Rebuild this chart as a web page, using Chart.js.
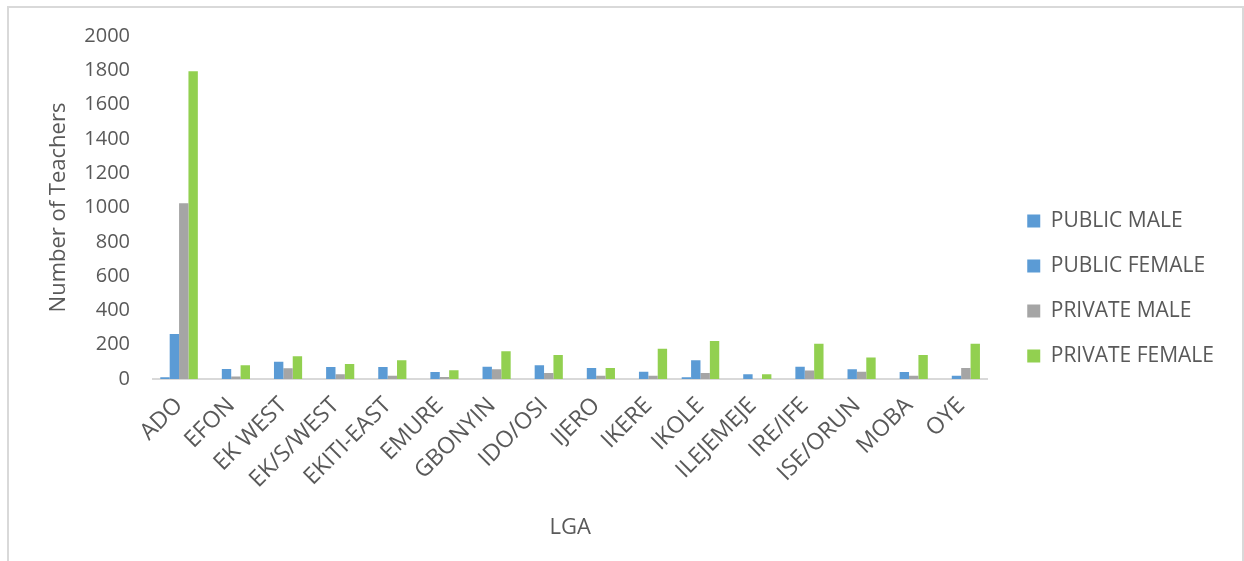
<!DOCTYPE html>
<html>
<head>
    <title>Teachers by LGA</title>
    <script src="https://cdn.jsdelivr.net/npm/chart.js"></script>
    <style>
        body {
            margin: 0;
            background: #ffffff;
            overflow: hidden;
        }

        /* thin grey frame round the chart, open at the bottom */
        .frame {
            position: absolute;
            left: 7px;
            top: 6px;
            width: 1233px;
            height: 600px;
            border: 2px solid #d9d9d9;
            border-bottom: none;
        }

        #lgaChart {
            position: absolute;
            left: 0;
            top: 0;
        }
    </style>
</head>
<body>
<div class="frame"></div>
<canvas id="lgaChart" width="1244" height="561"></canvas>

<script>
    const lgas = ['ADO', 'EFON', 'EK WEST', 'EK/S/WEST', 'EKITI-EAST', 'EMURE', 'GBONYIN', 'IDO/OSI',
        'IJERO', 'IKERE', 'IKOLE', 'ILEJEMEJE', 'IRE/IFE', 'ISE/ORUN', 'MOBA', 'OYE'];

    const publicMale    = [10, 0, 0, 0, 0, 0, 0, 0, 0, 0, 10, 0, 0, 0, 0, 0];
    const publicFemale  = [263, 58, 101, 70, 70, 41, 72, 80, 64, 43, 109, 27, 72, 57, 41, 19];
    const privateMale   = [1025, 15, 63, 27, 19, 12, 57, 35, 19, 19, 35, 0, 49, 43, 19, 64];
    const privateFemale = [1795, 80, 133, 88, 109, 51, 162, 140, 64, 177, 222, 27, 206, 125, 140, 206];

    const yTicks = { min: 0, max: 2000, step: 200 };

    const textColor = '#595959';
    const fontFamily = "'Open Sans', sans-serif";

    function makeSet(label, data, color) {
        return { label: label, data: data, backgroundColor: color, borderWidth: 0 };
    }

    const ctx = document.getElementById('lgaChart').getContext('2d');

    new Chart(ctx, {
        type: 'bar',
        data: {
            labels: lgas,
            datasets: [
                makeSet('PUBLIC MALE', publicMale, '#5b9bd5'),
                makeSet('PUBLIC FEMALE', publicFemale, '#5b9bd5'),
                makeSet('PRIVATE MALE', privateMale, '#a5a5a5'),
                makeSet('PRIVATE FEMALE', privateFemale, '#92d050')
            ]
        },
        options: {
            responsive: false,
            animation: false,
            categoryPercentage: 0.72,
            barPercentage: 1.0,
            layout: { padding: { left: 0, top: 36, right: 20, bottom: 20 } },
            plugins: {
                tooltip: { enabled: false },
                legend: {
                    position: 'right',
                    align: 'center',
                    labels: {
                        boxWidth: 13,
                        boxHeight: 13,
                        padding: 24,
                        color: textColor,
                        font: { family: fontFamily, size: 21 }
                    }
                }
            },
            scales: {
                x: {
                    grid: { display: false, drawTicks: false },
                    border: { color: '#d9d9d9', width: 2 },
                    ticks: {
                        autoSkip: false,
                        minRotation: 45,
                        maxRotation: 45,
                        padding: 13,
                        color: textColor,
                        font: { family: fontFamily, size: 23 }
                    },
                    title: {
                        display: true,
                        text: 'LGA',
                        color: textColor,
                        padding: 0,
                        font: { family: fontFamily, size: 22 }
                    },
                    afterFit: function (scale) { scale.height = 162; }
                },
                y: {
                    min: yTicks.min,
                    max: yTicks.max,
                    grid: { display: false, drawTicks: false },
                    border: { display: false },
                    ticks: {
                        stepSize: yTicks.step,
                        padding: 23,
                        color: textColor,
                        font: { family: fontFamily, size: 20 },
                        callback: function (value) { return String(value); }
                    },
                    title: {
                        display: true,
                        text: 'Number of Teachers',
                        color: textColor,
                        padding: { top: 46, bottom: 0 },
                        font: { family: fontFamily, size: 22 }
                    },
                    afterFit: function (scale) { scale.width = 153; }
                },
                // hidden spacer between the bars and the legend
                gap: {
                    type: 'linear',
                    position: 'right',
                    display: false,
                    afterFit: function (scale) { scale.width = 16; }
                }
            }
        }
    });
</script>
</body>
</html>
